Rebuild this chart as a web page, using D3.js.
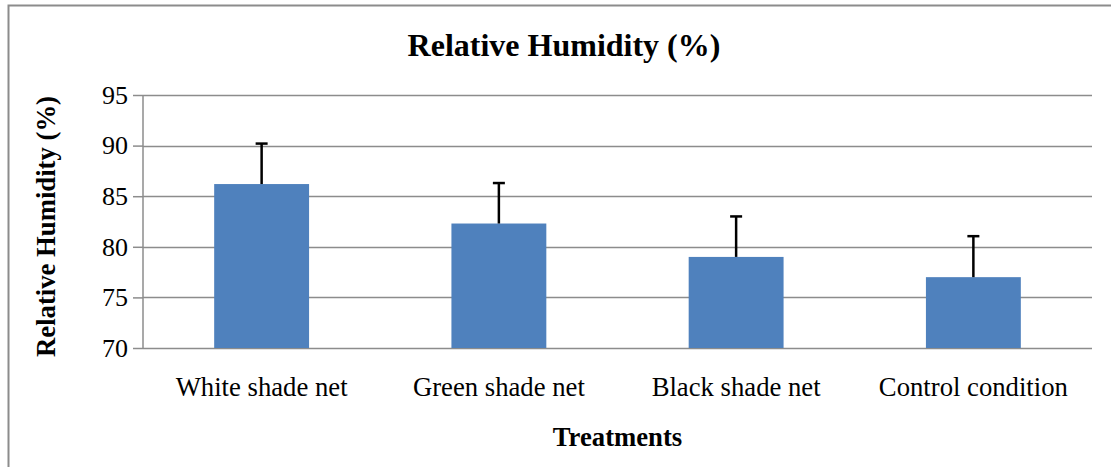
<!DOCTYPE html>
<html>
<head>
<meta charset="utf-8">
<script src="https://cdn.jsdelivr.net/npm/d3@7"></script>
<style>
  body { margin: 0; background: #fff; }
  svg text { font-family: "Liberation Serif", "Times New Roman", serif; fill: #000; }
</style>
</head>
<body>
<div id="chart"></div>
<script>
// chart data
const treatments = ["White shade net", "Green shade net", "Black shade net", "Control condition"];
const humidity = [86.2, 82.3, 79.0, 77.0];
const errorUp = [4.0, 4.0, 4.0, 4.05];
const yTicks = [70, 75, 80, 85, 90, 95];

const W = 1111, H = 467;
const margin = {top: 95, right: 19, bottom: 119, left: 143};
const width = W - margin.left - margin.right;
const height = H - margin.top - margin.bottom;

const svg = d3.select("#chart").append("svg")
    .attr("width", W)
    .attr("height", H);

// outer chart border (runs past the bottom/right edge)
svg.append("rect")
    .attr("x", 8.5).attr("y", 5.5)
    .attr("width", W + 20).attr("height", H + 20)
    .attr("fill", "none")
    .attr("stroke", "#8c8c8c")
    .attr("stroke-width", 2);

const g = svg.append("g")
    .attr("transform", `translate(${margin.left},${margin.top})`);

// scales
const x = d3.scaleBand()
    .domain(treatments)
    .range([0, width])
    .paddingInner(0.6)
    .paddingOuter(0.3);

const y = d3.scaleLinear()
    .domain([70, 95])
    .range([height, 0]);

// gridlines
g.append("g")
    .selectAll("line")
    .data(yTicks)
    .join("line")
    .attr("x1", 0).attr("x2", width)
    .attr("y1", d => Math.round(y(d)) + 0.5)
    .attr("y2", d => Math.round(y(d)) + 0.5)
    .attr("stroke", "#8c8c8c")
    .attr("stroke-width", 1.5);

// y axis
const yAxis = d3.axisLeft(y)
    .tickValues(yTicks)
    .tickSize(10)
    .tickPadding(5)
    .tickFormat(d3.format("d"));

const yAxisGroup = g.append("g").call(yAxis);
yAxisGroup.select(".domain").attr("stroke", "#8c8c8c").attr("stroke-width", 1.5);
yAxisGroup.selectAll(".tick line").attr("stroke", "#8c8c8c").attr("stroke-width", 1.5);
yAxisGroup.selectAll(".tick text")
    .attr("font-size", 26)
    .style("font-family", "Liberation Serif, serif");
yAxisGroup.select(".domain").attr("d", `M0,${height}V0`);

// bars
g.selectAll(".bar")
    .data(humidity)
    .join("rect")
    .attr("class", "bar")
    .attr("x", (d, i) => x(treatments[i]))
    .attr("y", d => y(d))
    .attr("width", x.bandwidth())
    .attr("height", d => height - y(d))
    .attr("fill", "#4f81bd");

// error bars (upper only)
const err = g.selectAll(".err")
    .data(humidity)
    .join("g")
    .attr("class", "err")
    .attr("transform", (d, i) => `translate(${x(treatments[i]) + x.bandwidth() / 2},0)`);

err.append("line")
    .attr("x1", 0).attr("x2", 0)
    .attr("y1", d => y(d))
    .attr("y2", (d, i) => y(d + errorUp[i]))
    .attr("stroke", "#000")
    .attr("stroke-width", 2.5);

err.append("line")
    .attr("x1", -6).attr("x2", 6)
    .attr("y1", (d, i) => y(d + errorUp[i]))
    .attr("y2", (d, i) => y(d + errorUp[i]))
    .attr("stroke", "#000")
    .attr("stroke-width", 2.5);

// x category labels
g.selectAll(".cat")
    .data(treatments)
    .join("text")
    .attr("class", "cat")
    .attr("x", d => x(d) + x.bandwidth() / 2)
    .attr("y", height + 48)
    .attr("text-anchor", "middle")
    .attr("font-size", 26.7)
    .text(d => d);

// titles
svg.append("text")
    .attr("x", 564)
    .attr("y", 56)
    .attr("text-anchor", "middle")
    .attr("font-size", 32)
    .attr("font-weight", "bold")
    .text("Relative Humidity (%)");

svg.append("text")
    .attr("x", margin.left + width / 2)
    .attr("y", 446)
    .attr("text-anchor", "middle")
    .attr("font-size", 26.7)
    .attr("font-weight", "bold")
    .text("Treatments");

svg.append("text")
    .attr("transform", `translate(55,${margin.top + height / 2 + 5}) rotate(-90)`)
    .attr("text-anchor", "middle")
    .attr("font-size", 26.7)
    .attr("font-weight", "bold")
    .text("Relative Humidity (%)");
</script>
</body>
</html>
